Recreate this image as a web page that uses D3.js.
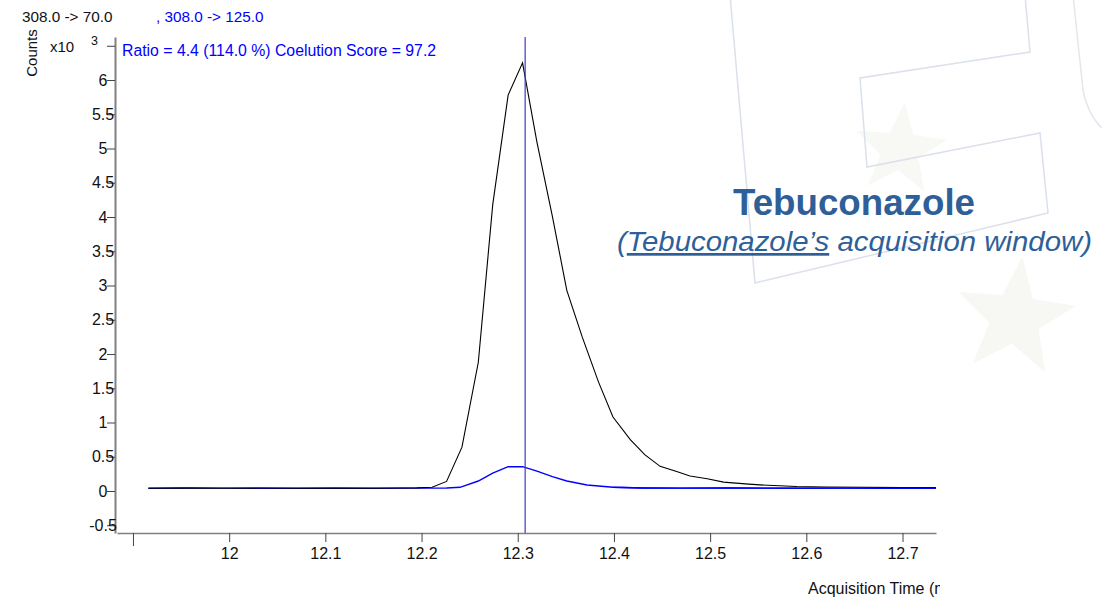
<!DOCTYPE html>
<html>
<head>
<meta charset="utf-8">
<script src="https://cdn.jsdelivr.net/npm/d3@7"></script>
<style>
  html, body { margin: 0; padding: 0; background: #fff; }
  svg { display: block; font-family: "Liberation Sans", Arial, sans-serif; }
</style>
</head>
<body>
<svg id="chart" width="1102" height="606"></svg>
<script>
// ---- data (counts in x10^3, time in min) ----
const quantTimes  = [11.916, 11.95, 11.99, 12.03, 12.07, 12.11, 12.15, 12.18, 12.195, 12.211, 12.226, 12.242, 12.259, 12.274, 12.290, 12.305, 12.320, 12.336, 12.351, 12.367, 12.384, 12.399, 12.417, 12.432, 12.448, 12.466, 12.479, 12.497, 12.514, 12.54, 12.56, 12.59, 12.62, 12.66, 12.70, 12.735];
const quantCounts = [0.04, 0.042, 0.04, 0.043, 0.041, 0.042, 0.04, 0.043, 0.046, 0.055, 0.14, 0.64, 1.88, 4.18, 5.78, 6.25, 5.09, 4.01, 2.93, 2.25, 1.59, 1.08, 0.75, 0.53, 0.36, 0.28, 0.22, 0.18, 0.13, 0.1, 0.083, 0.065, 0.058, 0.054, 0.05, 0.052];
const qualTimes   = [11.916, 11.96, 12.0, 12.05, 12.1, 12.15, 12.2, 12.226, 12.240, 12.259, 12.274, 12.290, 12.305, 12.320, 12.336, 12.351, 12.372, 12.399, 12.43, 12.47, 12.52, 12.58, 12.64, 12.70, 12.735];
const qualCounts  = [0.04, 0.045, 0.042, 0.04, 0.041, 0.04, 0.042, 0.045, 0.054, 0.146, 0.26, 0.355, 0.355, 0.29, 0.21, 0.146, 0.088, 0.054, 0.045, 0.042, 0.044, 0.04, 0.042, 0.04, 0.041];
const markerTime  = 12.3077;
const xTickValues = [11.9, 12.0, 12.1, 12.2, 12.3, 12.4, 12.5, 12.6, 12.7];
const xTickLabels = ["", "12", "12.1", "12.2", "12.3", "12.4", "12.5", "12.6", "12.7"];
const yTickValues = [-0.5, 0, 0.5, 1, 1.5, 2, 2.5, 3, 3.5, 4, 4.5, 5, 5.5, 6, 6.5];
const yTickLabels = ["-0.5", "0", "0.5", "1", "1.5", "2", "2.5", "3", "3.5", "4", "4.5", "5", "5.5", "6", ""];
const quantLabel = "308.0 -> 70.0";
const qualLabel = ", 308.0 -> 125.0";
const ratioLabel = "Ratio = 4.4 (114.0 %) Coelution Score = 97.2";
const compoundName = "Tebuconazole";

const FONT = "Liberation Sans, Arial, sans-serif";
const svg = d3.select("#chart");

// ---- faint watermark background ----
const wm = svg.append("g");
const star = (cx, cy, R, r, rot) => {
  const pts = [];
  for (let i = 0; i < 10; i++) {
    const a = rot + i * Math.PI / 5;
    const rr = i % 2 === 0 ? R : r;
    pts.push([cx + rr * Math.sin(a), cy - rr * Math.cos(a)]);
  }
  return pts;
};
wm.append("polygon").attr("points", star(1015, 318, 62, 26, 0.12).join(" "))
  .attr("fill", "#f7f7f3");
wm.append("polygon").attr("points", star(900, 150, 48, 20, 0.1).join(" "))
  .attr("fill", "#f8f8f5");
const eShape = [[730,-5],[755,283],[1048,213],[1040,133],[867,167],[860,78],[1030,52],[1025,-5]];
wm.append("polygon").attr("points", eShape.join(" "))
  .attr("fill", "none").attr("stroke", "#dae1ea").attr("stroke-width", 1.5);
wm.append("path").attr("d", "M1073,-5 L1083,90 Q1088,115 1102,128")
  .attr("fill", "none").attr("stroke", "#e2e7ed").attr("stroke-width", 1.5);

// ---- scales ----
const x = d3.scaleLinear().domain([11.8834, 12.7348]).range([117, 936]);
const y = d3.scaleLinear().domain([-0.613, 6.628]).range([533, 37]);

svg.append("clipPath").attr("id", "plotClip")
  .append("rect").attr("x", 117).attr("y", 30).attr("width", 819).attr("height", 503);

// ---- axes ----
const yAxis = d3.axisLeft(y).tickValues(yTickValues)
  .tickFormat((d, i) => yTickLabels[i]).tickSize(8).tickSizeOuter(0);
const gy = svg.append("g").attr("transform", "translate(115,0)").call(yAxis);
gy.attr("font-size", 16).attr("font-family", FONT);
gy.select(".domain").attr("stroke", "#808080").attr("stroke-width", 2);
gy.selectAll(".tick line").attr("stroke", "#444");
gy.selectAll(".tick text").attr("x", -12).attr("text-anchor", "middle").attr("fill", "#111");

const xAxis = d3.axisBottom(x).tickValues(xTickValues)
  .tickFormat((d, i) => xTickLabels[i]).tickSize(9).tickSizeOuter(0);
const gx = svg.append("g").attr("transform", "translate(0,533)").call(xAxis);
gx.attr("font-size", 16).attr("font-family", FONT);
gx.select(".domain").attr("stroke", "#808080").attr("stroke-width", 1.6);
gx.selectAll(".tick line").attr("stroke", "#444");
gx.selectAll(".tick line").filter((d, i) => i === 0).attr("y2", 13);
gx.selectAll(".tick text").attr("y", 26).attr("dy", 0).attr("fill", "#111");

// ---- curves ----
const plot = svg.append("g").attr("clip-path", "url(#plotClip)");
const line = d3.line().x(d => x(d[0])).y(d => y(d[1]));
plot.append("path").datum(qualTimes.map((t, i) => [t, qualCounts[i]]))
  .attr("d", line).attr("fill", "none").attr("stroke", "#0000ff").attr("stroke-width", 1.4);
plot.append("path").datum(quantTimes.map((t, i) => [t, quantCounts[i]]))
  .attr("d", line).attr("fill", "none").attr("stroke", "#000").attr("stroke-width", 1.1);
plot.append("path").datum(qualTimes.map((t, i) => [t, qualCounts[i]]).filter(d => d[0] > 12.38))
  .attr("d", line).attr("fill", "none").attr("stroke", "#0000ff").attr("stroke-width", 1.4);

// marker line
svg.append("line")
  .attr("x1", x(markerTime)).attr("x2", x(markerTime))
  .attr("y1", y(6.628)).attr("y2", y(-0.613))
  .attr("stroke", "#3b3bc4").attr("stroke-width", 1.2);

// ---- header texts ----
svg.append("text").attr("x", 22).attr("y", 22).attr("font-size", 15.3).attr("fill", "#111").text(quantLabel);
svg.append("text").attr("x", 156).attr("y", 22).attr("font-size", 15.3).attr("fill", "#0000ff").text(qualLabel);
svg.append("text").attr("transform", "translate(37,53) rotate(-90)").attr("text-anchor", "middle")
  .attr("font-size", 15).attr("fill", "#111").text("Counts");
svg.append("text").attr("x", 50).attr("y", 52).attr("font-size", 15).attr("fill", "#111").text("x10");
svg.append("text").attr("x", 91).attr("y", 45).attr("font-size", 12.5).attr("fill", "#111").text("3");
svg.append("text").attr("x", 122).attr("y", 56).attr("font-size", 15.8).attr("fill", "#0000ff").text(ratioLabel);

// x axis title (clipped)
svg.append("clipPath").attr("id", "xtClip").append("rect").attr("x", 0).attr("y", 560).attr("width", 940).attr("height", 46);
svg.append("text").attr("clip-path", "url(#xtClip)").attr("x", 808).attr("y", 594)
  .attr("font-size", 16).attr("fill", "#111").text("Acquisition Time (min)");

// ---- compound annotation ----
svg.append("text").attr("x", 854).attr("y", 215).attr("text-anchor", "middle")
  .attr("font-size", 37).attr("font-weight", "bold").attr("fill", "#2f5f98")
  .attr("textLength", 242).attr("lengthAdjust", "spacingAndGlyphs").text(compoundName);
const sub = svg.append("text").attr("x", 617).attr("y", 251)
  .attr("font-size", 27).attr("font-style", "italic").attr("fill", "#2f5f98")
  .attr("textLength", 475).attr("lengthAdjust", "spacingAndGlyphs");
sub.append("tspan").text("(");
sub.append("tspan").style("text-decoration", "underline").text(compoundName + "\u2019s");
sub.append("tspan").text(" acquisition window)");
</script>
</body>
</html>
